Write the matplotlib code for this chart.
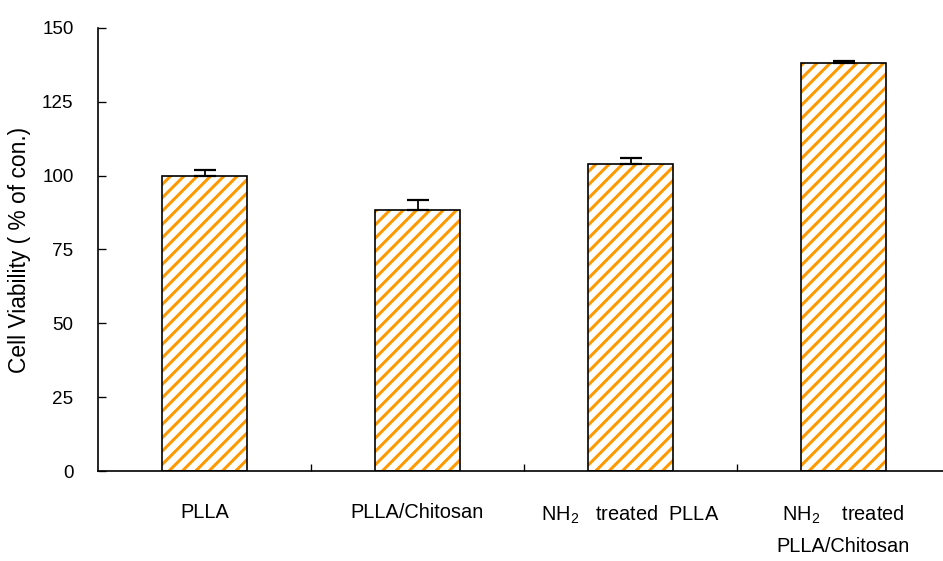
import matplotlib
matplotlib.use('Agg')
import matplotlib.pyplot as plt

samples = ['PLLA', 'PLLA/Chitosan', 'NH$_2$   treated  PLLA', 'NH$_2$    treated\nPLLA/Chitosan']
viability = [100, 88.4, 104, 138]
err = [1.9, 3.4, 2.0, 0.7]
yticks = [0, 25, 50, 75, 100, 125, 150]

plt.rcParams['font.family'] = ['Liberation Sans', 'DejaVu Sans']
plt.rcParams['mathtext.fontset'] = 'custom'
plt.rcParams['mathtext.rm'] = 'Liberation Sans'
plt.rcParams['mathtext.it'] = 'Liberation Sans'
plt.rcParams['mathtext.default'] = 'rm'
plt.rcParams['hatch.linewidth'] = 2.7

dpi = 80
fig = plt.figure(figsize=(943 / dpi, 561 / dpi), dpi=dpi)
ax = fig.add_axes([98 / 943, 90 / 561, 852 / 943, 443 / 561])

x = list(range(len(samples)))
orange = '#ff9900'
# stripes first, then the black outline on top
ax.bar(x, viability, width=0.4, color='white', edgecolor=orange, hatch='//', linewidth=0, zorder=2)
ax.bar(x, viability, width=0.4, fill=False, edgecolor='black', linewidth=1.5, zorder=3)
ax.errorbar(x, viability, yerr=[[0] * len(err), err], fmt='none', ecolor='black',
            elinewidth=1.6, capsize=10, capthick=2, zorder=4)

ax.set_xlim(-0.5, 3.5)
ax.set_ylim(0, 150)
ax.set_yticks(yticks)
ax.tick_params(axis='y', direction='in', length=7, width=1.2, pad=22, labelsize=17)

ax.set_xticks(x)
ax.set_xticklabels(samples, fontsize=18)
ax.set_xticks([0.5, 1.5, 2.5], minor=True)
ax.tick_params(axis='x', which='major', length=0, pad=29)
ax.tick_params(axis='x', which='minor', direction='in', length=6, width=1.2)
for lbl in ax.get_xticklabels():
    lbl.set_linespacing(1.75)

ax.set_ylabel('Cell Viability ( % of con.)', fontsize=20.5, labelpad=10)

ax.spines['top'].set_visible(False)
ax.spines['right'].set_visible(False)
ax.spines['left'].set_linewidth(1.5)
ax.spines['bottom'].set_linewidth(1.5)

fig.savefig('out.png', dpi=dpi)
